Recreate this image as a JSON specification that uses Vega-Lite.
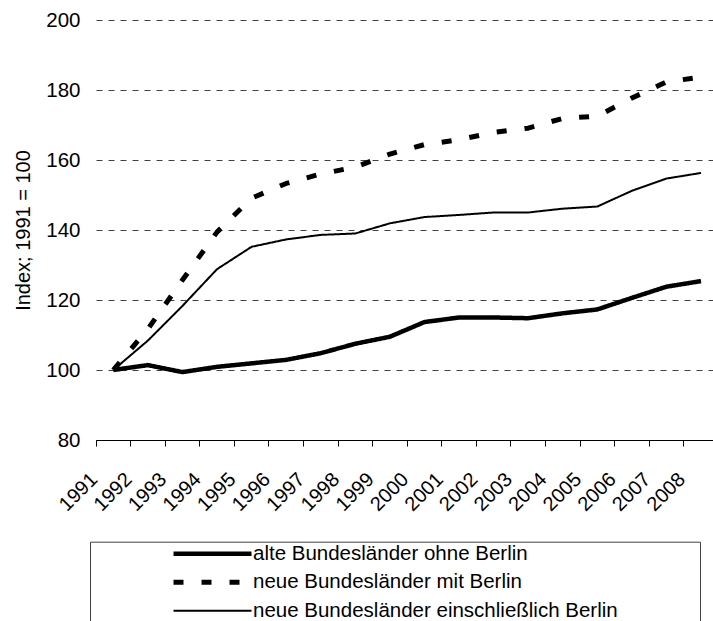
{
  "$schema": "https://vega.github.io/schema/vega-lite/v6.json",
  "autosize": {"type": "none"},
  "width": 617,
  "height": 420,
  "padding": {"left": 96, "top": 20, "right": 0, "bottom": 181},
  "background": "white",
  "config": {
    "font": "Liberation Sans",
    "view": {"stroke": null}
  },
  "data": {
    "values": [
      {"year": "1991", "series": "alte Bundesländer ohne Berlin", "index": 100},
      {"year": "1992", "series": "alte Bundesländer ohne Berlin", "index": 101.4},
      {"year": "1993", "series": "alte Bundesländer ohne Berlin", "index": 99.4},
      {"year": "1994", "series": "alte Bundesländer ohne Berlin", "index": 100.9},
      {"year": "1995", "series": "alte Bundesländer ohne Berlin", "index": 101.9},
      {"year": "1996", "series": "alte Bundesländer ohne Berlin", "index": 102.9},
      {"year": "1997", "series": "alte Bundesländer ohne Berlin", "index": 104.8},
      {"year": "1998", "series": "alte Bundesländer ohne Berlin", "index": 107.5},
      {"year": "1999", "series": "alte Bundesländer ohne Berlin", "index": 109.5},
      {"year": "2000", "series": "alte Bundesländer ohne Berlin", "index": 113.7},
      {"year": "2001", "series": "alte Bundesländer ohne Berlin", "index": 115.0},
      {"year": "2002", "series": "alte Bundesländer ohne Berlin", "index": 115.0},
      {"year": "2003", "series": "alte Bundesländer ohne Berlin", "index": 114.8},
      {"year": "2004", "series": "alte Bundesländer ohne Berlin", "index": 116.2},
      {"year": "2005", "series": "alte Bundesländer ohne Berlin", "index": 117.3},
      {"year": "2006", "series": "alte Bundesländer ohne Berlin", "index": 120.6},
      {"year": "2007", "series": "alte Bundesländer ohne Berlin", "index": 123.8},
      {"year": "2008", "series": "alte Bundesländer ohne Berlin", "index": 125.4},
      {"year": "1991", "series": "neue Bundesländer mit Berlin", "index": 100},
      {"year": "1992", "series": "neue Bundesländer mit Berlin", "index": 111.7},
      {"year": "1993", "series": "neue Bundesländer mit Berlin", "index": 125.7},
      {"year": "1994", "series": "neue Bundesländer mit Berlin", "index": 139.4},
      {"year": "1995", "series": "neue Bundesländer mit Berlin", "index": 149.1},
      {"year": "1996", "series": "neue Bundesländer mit Berlin", "index": 153.3},
      {"year": "1997", "series": "neue Bundesländer mit Berlin", "index": 156.0},
      {"year": "1998", "series": "neue Bundesländer mit Berlin", "index": 158.0},
      {"year": "1999", "series": "neue Bundesländer mit Berlin", "index": 161.7},
      {"year": "2000", "series": "neue Bundesländer mit Berlin", "index": 164.4},
      {"year": "2001", "series": "neue Bundesländer mit Berlin", "index": 165.8},
      {"year": "2002", "series": "neue Bundesländer mit Berlin", "index": 167.9},
      {"year": "2003", "series": "neue Bundesländer mit Berlin", "index": 169.1},
      {"year": "2004", "series": "neue Bundesländer mit Berlin", "index": 171.9},
      {"year": "2005", "series": "neue Bundesländer mit Berlin", "index": 172.5},
      {"year": "2006", "series": "neue Bundesländer mit Berlin", "index": 177.7},
      {"year": "2007", "series": "neue Bundesländer mit Berlin", "index": 182.3},
      {"year": "2008", "series": "neue Bundesländer mit Berlin", "index": 183.7},
      {"year": "1991", "series": "neue Bundesländer einschließlich Berlin", "index": 100},
      {"year": "1992", "series": "neue Bundesländer einschließlich Berlin", "index": 108.4},
      {"year": "1993", "series": "neue Bundesländer einschließlich Berlin", "index": 118.3},
      {"year": "1994", "series": "neue Bundesländer einschließlich Berlin", "index": 128.8},
      {"year": "1995", "series": "neue Bundesländer einschließlich Berlin", "index": 135.2},
      {"year": "1996", "series": "neue Bundesländer einschließlich Berlin", "index": 137.3},
      {"year": "1997", "series": "neue Bundesländer einschließlich Berlin", "index": 138.6},
      {"year": "1998", "series": "neue Bundesländer einschließlich Berlin", "index": 139.0},
      {"year": "1999", "series": "neue Bundesländer einschließlich Berlin", "index": 141.9},
      {"year": "2000", "series": "neue Bundesländer einschließlich Berlin", "index": 143.7},
      {"year": "2001", "series": "neue Bundesländer einschließlich Berlin", "index": 144.3},
      {"year": "2002", "series": "neue Bundesländer einschließlich Berlin", "index": 145.0},
      {"year": "2003", "series": "neue Bundesländer einschließlich Berlin", "index": 145.0},
      {"year": "2004", "series": "neue Bundesländer einschließlich Berlin", "index": 146.1},
      {"year": "2005", "series": "neue Bundesländer einschließlich Berlin", "index": 146.7},
      {"year": "2006", "series": "neue Bundesländer einschließlich Berlin", "index": 151.2},
      {"year": "2007", "series": "neue Bundesländer einschließlich Berlin", "index": 154.7},
      {"year": "2008", "series": "neue Bundesländer einschließlich Berlin", "index": 156.3}
    ]
  },
  "mark": {"type": "line", "color": "black", "strokeJoin": "round"},
  "encoding": {
    "x": {
      "field": "year",
      "type": "ordinal",
      "scale": {"type": "band", "paddingInner": 0, "paddingOuter": 0, "range": [0, 622.3]},
      "axis": {
        "title": null,
        "bandPosition": 0,
        "grid": false,
        "domainColor": "black",
        "domainWidth": 1,
        "tickColor": "black",
        "tickSize": 6,
        "labelAngle": -45,
        "labelAlign": "right",
        "labelBaseline": "middle",
        "labelOffset": -19,
        "labelPadding": 30,
        "labelFontSize": 20,
        "labelColor": "black",
        "labelFont": "Liberation Sans"
      }
    },
    "y": {
      "field": "index",
      "type": "quantitative",
      "scale": {"domain": [80, 200], "nice": false, "zero": false},
      "axis": {
        "title": "Index; 1991 = 100",
        "titleFontSize": 20,
        "titleFontWeight": "normal",
        "titleFont": "Liberation Sans",
        "titleColor": "black",
        "titlePadding": 12,
        "values": [80, 100, 120, 140, 160, 180, 200],
        "domain": false,
        "ticks": false,
        "grid": true,
        "gridColor": "#404040",
        "gridDash": [6, 6],
        "gridWidth": 1,
        "labelFontSize": 20.5,
        "labelColor": "black",
        "labelFont": "Liberation Sans",
        "labelPadding": 16
      }
    },
    "strokeDash": {
      "field": "series",
      "type": "nominal",
      "scale": {
        "domain": ["alte Bundesländer ohne Berlin", "neue Bundesländer mit Berlin", "neue Bundesländer einschließlich Berlin"],
        "range": [[1, 0], [10, 18], [1, 0]]
      },
      "legend": {
        "title": "\u2800\u2800\u2800\u2800\u2800",
        "titleOrient": "right",
        "titlePadding": 0,
        "titleFontSize": 21.5,
        "orient": "none",
        "legendX": -6,
        "legendY": 521.7,
        "padding": 2,
        "strokeColor": "#404040",
        "fillColor": "white",
        "symbolType": "stroke",
        "symbolSize": 6084,
        "clipHeight": 20,
        "symbolOffset": 79,
        "labelOffset": -1,
        "labelLimit": 500,
        "rowPadding": 7.5,
        "labelFontSize": 20.5,
        "labelFont": "Liberation Sans",
        "labelColor": "black",
        "symbolStrokeColor": "black"
      }
    },
    "strokeWidth": {
      "field": "series",
      "type": "nominal",
      "scale": {
        "type": "ordinal",
        "domain": ["alte Bundesländer ohne Berlin", "neue Bundesländer mit Berlin", "neue Bundesländer einschließlich Berlin"],
        "range": [4.5, 5, 2]
      },
      "legend": {
        "title": "\u2800\u2800\u2800\u2800\u2800",
        "titleOrient": "right",
        "titlePadding": 0,
        "titleFontSize": 21.5,
        "orient": "none",
        "legendX": -6,
        "legendY": 521.7,
        "padding": 2,
        "strokeColor": "#404040",
        "fillColor": "white",
        "symbolType": "stroke",
        "symbolSize": 6084,
        "clipHeight": 20,
        "symbolOffset": 79,
        "labelOffset": -1,
        "labelLimit": 500,
        "rowPadding": 7.5,
        "labelFontSize": 20.5,
        "labelFont": "Liberation Sans",
        "labelColor": "black",
        "symbolStrokeColor": "black"
      }
    }
  }
}
